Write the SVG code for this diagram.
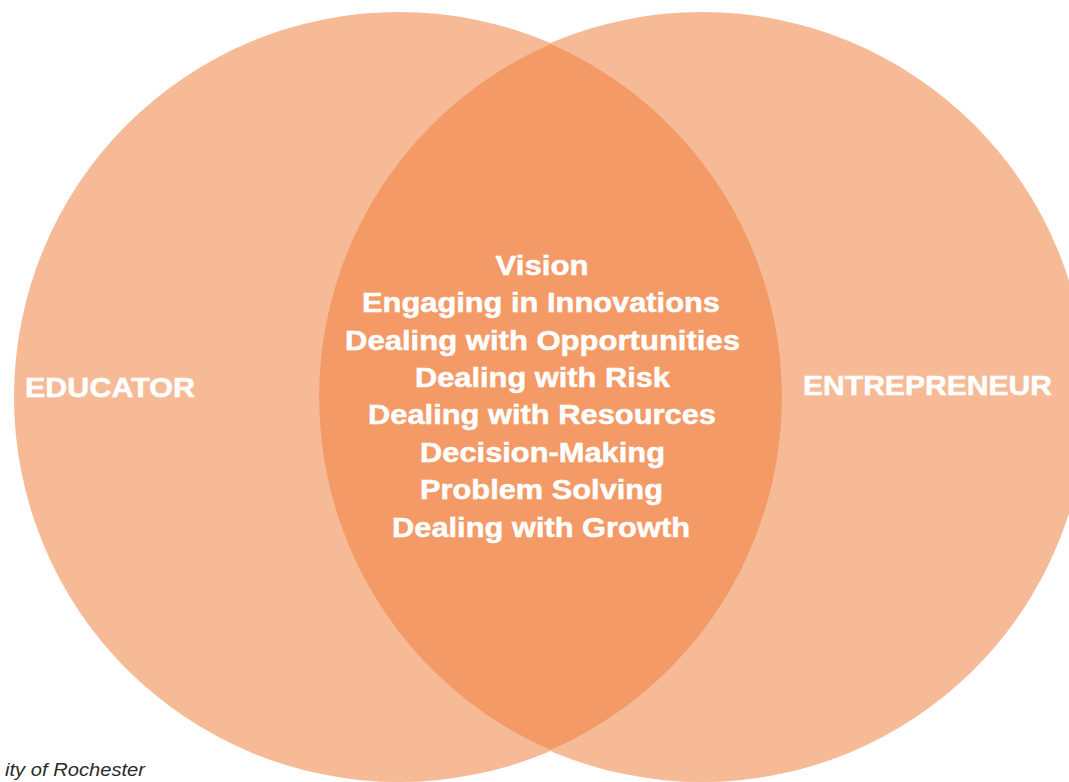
<svg xmlns="http://www.w3.org/2000/svg" width="1069" height="782" viewBox="0 0 1069 782">
  <style>
    .circle { fill: #F6BA97; }
    .lens { fill: #F39A66; }
    .lbl { font-family: "Liberation Sans", Arial, sans-serif; font-weight: bold; font-size: 28px; fill: #FFFFFF; stroke: #FFFFFF; stroke-width: 0.5px; }
    .mid { text-anchor: middle; }
    .foot { font-family: "Liberation Sans", Arial, sans-serif; font-style: italic; font-size: 18px; fill: #2a2a2a; }
  </style>
  <rect width="1069" height="782" fill="#FFFFFF"/>
  <g id="educator">
    <circle class="circle" cx="399" cy="397" r="385"/>
    <text class="lbl" x="25" y="397" textLength="170" lengthAdjust="spacingAndGlyphs">EDUCATOR</text>
  </g>
  <g id="entrepreneur">
    <circle class="circle" cx="702" cy="397" r="385"/>
    <text class="lbl" x="803" y="395" textLength="249" lengthAdjust="spacingAndGlyphs">ENTREPRENEUR</text>
  </g>
  <g id="overlap">
    <path class="lens" d="M550.5,44 A385,385 0 0 1 550.5,750 A385,385 0 0 1 550.5,44 Z"/>
    <text class="lbl mid" x="542" y="275" textLength="93" lengthAdjust="spacingAndGlyphs">Vision</text>
    <text class="lbl mid" x="541" y="312" textLength="358" lengthAdjust="spacingAndGlyphs">Engaging in Innovations</text>
    <text class="lbl mid" x="542.5" y="350" textLength="395" lengthAdjust="spacingAndGlyphs">Dealing with Opportunities</text>
    <text class="lbl mid" x="542.5" y="387" textLength="255" lengthAdjust="spacingAndGlyphs">Dealing with Risk</text>
    <text class="lbl mid" x="542" y="424" textLength="348" lengthAdjust="spacingAndGlyphs">Dealing with Resources</text>
    <text class="lbl mid" x="542.5" y="462" textLength="245" lengthAdjust="spacingAndGlyphs">Decision-Making</text>
    <text class="lbl mid" x="541.5" y="499" textLength="243" lengthAdjust="spacingAndGlyphs">Problem Solving</text>
    <text class="lbl mid" x="541" y="537" textLength="298" lengthAdjust="spacingAndGlyphs">Dealing with Growth</text>
  </g>
  <g id="connectors"></g>
  <text class="foot" x="5" y="776" textLength="140" lengthAdjust="spacingAndGlyphs">ity of Rochester</text>
</svg>
